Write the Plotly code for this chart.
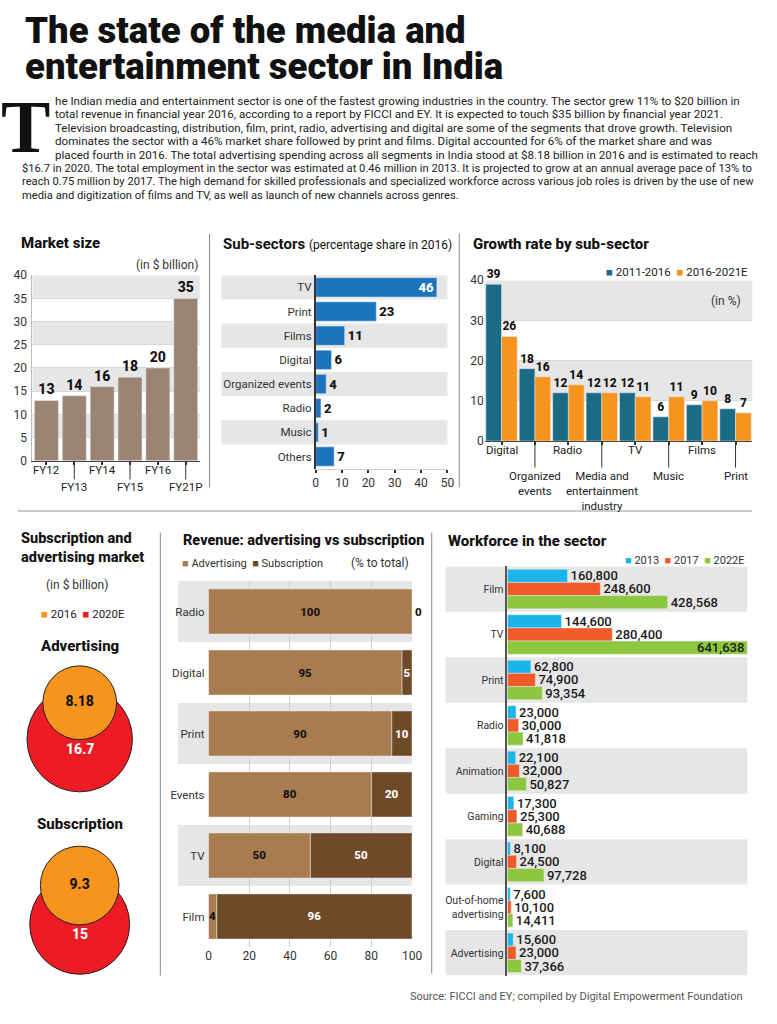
import plotly.graph_objects as go

W, H = 777, 1024
FONT = "Roboto"
BAND = "#e6e6e6"

# ---------------- data ----------------
title_lines = ["The state of the media and", "entertainment sector in India"]
intro_first = ["he Indian media and entertainment sector is one of the fastest growing industries in the country. The sector grew 11% to $20 billion in",
               "total revenue in financial year 2016, according to a report by FICCI and EY. It is expected to touch $35 billion by financial year 2021.",
               "Television broadcasting, distribution, film, print, radio, advertising and digital are some of the segments that drove growth. Television",
               "dominates the sector with a 46% market share followed by print and films. Digital accounted for 6% of the market share and was",
               "placed fourth in 2016. The total advertising spending across all segments in India stood at $8.18 billion in 2016 and is estimated to reach"]
intro_rest = ["$16.7 in 2020. The total employment in the sector was estimated at 0.46 million in 2013. It is projected to grow at an annual average pace of 13% to",
              "reach 0.75 million by 2017. The high demand for skilled professionals and specialized workforce across various job roles is driven by the use of new",
              "media and digitization of films and TV, as well as launch of new channels across genres."]

market_years = ["FY12", "FY13", "FY14", "FY15", "FY16", "FY21P"]
market_values = [13, 14, 16, 18, 20, 35]

sub_sectors = ["TV", "Print", "Films", "Digital", "Organized events", "Radio", "Music", "Others"]
sub_share = [46, 23, 11, 6, 4, 2, 1, 7]

growth_cats = ["Digital", "Organized events", "Radio", "Media and entertainment industry",
               "TV", "Music", "Films", "Print"]
growth_labels = ["Digital", "Organized<br>events", "Radio", "Media and<br>entertainment<br>industry",
                 "TV", "Music", "Films", "Print"]
growth_series = ["2011-2016", "2016-2021E"]
growth_2011_2016 = [39, 18, 12, 12, 12, 6, 9, 8]
growth_2016_2021 = [26, 16, 14, 12, 11, 11, 10, 7]

circle_groups = ["Advertising", "Subscription"]
circle_series = ["2016", "2020E"]
circle_2016 = [8.18, 9.3]
circle_2020 = [16.7, 15]

rev_cats = ["Radio", "Digital", "Print", "Events", "TV", "Film"]
rev_series = ["Advertising", "Subscription"]
rev_adv = [100, 95, 90, 80, 50, 4]
rev_sub = [0, 5, 10, 20, 50, 96]

wf_cats = ["Film", "TV", "Print", "Radio", "Animation", "Gaming", "Digital",
           "Out-of-home advertising", "Advertising"]
wf_labels = ["Film", "TV", "Print", "Radio", "Animation", "Gaming", "Digital",
             "Out-of-home<br>advertising", "Advertising"]
wf_series = ["2013", "2017", "2022E"]
wf_2013 = [160800, 144600, 62800, 23000, 22100, 17300, 8100, 7600, 15600]
wf_2017 = [248600, 280400, 74900, 30000, 32000, 25300, 24500, 10100, 23000]
wf_2022 = [428568, 641638, 93354, 41818, 50827, 40688, 97728, 14411, 37366]

source_text = "Source: FICCI and EY; compiled by Digital Empowerment Foundation"

# ---------------- styles ----------------
C_MARKET = "#9c8475"
C_SUB = "#1c75bc"
C_GROWTH = ["#1b6b87", "#f7941d"]
C_CIRCLE = ["#f7941d", "#ed1c24"]
C_REV = ["#a97c50", "#6f4a28"]
C_WF = ["#1cb5ea", "#f15a29", "#8dc63f"]


def X(p):
    return p / W


def Y(p):
    return 1 - p / H


annotations = []
shapes = []


def ann(text, x, y, size=12, color="#222", xanchor="left", yanchor="middle",
        weight=None, family=FONT, align="left", **kw):
    f = dict(size=size, color=color, family=family)
    if weight:
        f["weight"] = weight
    d = dict(text=text, x=X(x), y=Y(y), xref="paper", yref="paper", showarrow=False,
             xanchor=xanchor, yanchor=yanchor, font=f, align=align)
    d.update(kw)
    annotations.append(d)


def legend_text(names, colors):
    return "  ".join(f"<span style='color:{c}'>■</span> {n}" for n, c in zip(names, colors))


def vline(x, y0, y1, color="#888", w=1):
    shapes.append(dict(type="line", xref="paper", yref="paper", x0=X(x), x1=X(x),
                       y0=Y(y0), y1=Y(y1), line=dict(color=color, width=w)))


def hline(y, x0, x1, color="#888", w=1):
    shapes.append(dict(type="line", xref="paper", yref="paper", x0=X(x0), x1=X(x1),
                       y0=Y(y), y1=Y(y), line=dict(color=color, width=w)))


fig = go.Figure()

# ---------------- header ----------------
for i, t in enumerate(title_lines):
    ann(t, 20, 24 + 36.5 * i, size=36.5, color="#111", weight=900)
ann("T", 50, 122, size=74, color="#111", family="Liberation Serif", weight=700, xanchor="right")
LEAD = 13.7
for i, t in enumerate(intro_first):
    ann(t, 51, 95 + LEAD * i, size=11.6, color="#222")
for i, t in enumerate(intro_rest):
    ann(t, 17, 95 + LEAD * (len(intro_first) + i), size=11.2, color="#222")

# dividers
vline(210, 230, 487)
vline(464, 230, 487)
hline(511, 15, 762, color="#999")
vline(160, 533, 982)
vline(436, 533, 980)

# ---------------- Market size ----------------
ann("Market size", 16, 239, size=15, color="#111", weight=800)
ann("(in $ billion)", 200, 262, size=12, color="#333", xanchor="right")
fig.add_trace(go.Bar(x=market_years, y=market_values, width=0.86, marker_color=C_MARKET,
                     text=[str(v) for v in market_values], textposition="outside",
                     textfont=dict(size=14, color="#111", family=FONT, weight=800),
                     constraintext="none", cliponaxis=False, xaxis="x", yaxis="y",
                     showlegend=False, name="Market size"))
for k in range(1, 8, 2):
    shapes.append(dict(type="rect", xref="paper", yref="y", x0=X(30), x1=X(200),
                       y0=5 * k, y1=5 * k + 5, fillcolor=BAND, line_width=0, layer="below"))
for i, lab in enumerate(market_years):
    lvl2 = i % 2 == 1
    annotations.append(dict(text=lab, x=lab, xref="x", y=Y(487 if lvl2 else 469), yref="paper",
                            showarrow=False, font=dict(size=11.5, color="#222", family=FONT)))
    if lvl2:
        shapes.append(dict(type="line", xref="x", yref="paper", x0=i, x1=i, y0=Y(460), y1=Y(479),
                           line=dict(color="#333", width=1)))

# ---------------- Sub-sectors ----------------
ann("<b>Sub-sectors</b> <span style='font-size:12px;font-weight:400'>(percentage share in 2016)</span>",
    222, 240, size=15, color="#111")
mx = max(sub_share)
fig.add_trace(go.Bar(y=sub_sectors, x=sub_share, orientation="h", width=0.8, marker_color=C_SUB,
                     text=[str(v) for v in sub_share],
                     textposition=["inside" if v == mx else "outside" for v in sub_share],
                     insidetextanchor="end",
                     insidetextfont=dict(size=13, color="white", family=FONT, weight=800),
                     outsidetextfont=dict(size=13, color="#111", family=FONT, weight=800),
                     constraintext="none", cliponaxis=False, xaxis="x2", yaxis="y2",
                     showlegend=False, name="Share"))
for i in range(0, len(sub_sectors), 2):
    shapes.append(dict(type="rect", xref="paper", yref="y2", x0=X(222), x1=X(452),
                       y0=i - 0.5, y1=i + 0.5, fillcolor=BAND, line_width=0, layer="below"))

# ---------------- Growth rate ----------------
ann("Growth rate by sub-sector", 476, 240, size=15, color="#111", weight=800)
ann(legend_text(growth_series, C_GROWTH), 760, 269, size=11.5, color="#222", xanchor="right")
ann("(in %)", 753, 298, size=12, color="#333", xanchor="right")
for j, (vals, off) in enumerate(zip([growth_2011_2016, growth_2016_2021], [-0.47, 0.0])):
    fig.add_trace(go.Bar(x=growth_cats, y=vals, width=0.47, offset=off, marker_color=C_GROWTH[j],
                         text=[str(v) for v in vals], textposition="outside",
                         textfont=dict(size=12, color="#111", family=FONT, weight=800),
                         constraintext="none", cliponaxis=False, xaxis="x3", yaxis="y3",
                         showlegend=False, name=growth_series[j]))
for lo in (10, 30):
    shapes.append(dict(type="rect", xref="paper", yref="y3", x0=X(490), x1=X(762),
                       y0=lo, y1=lo + 10, fillcolor=BAND, line_width=0, layer="below"))
for i, (c, lab) in enumerate(zip(growth_cats, growth_labels)):
    lvl2 = i % 2 == 1
    annotations.append(dict(text=lab, x=c, xref="x3", y=Y(466 if lvl2 else 449), yref="paper",
                            yanchor="top" if lvl2 else "middle", showarrow=False,
                            font=dict(size=11.5, color="#222", family=FONT)))
    if lvl2:
        shapes.append(dict(type="line", xref="x3", yref="paper", x0=i, x1=i, y0=Y(440), y1=Y(467),
                           line=dict(color="#333", width=1)))

# ---------------- Subscription & advertising circles ----------------
ann("Subscription and<br>advertising market", 16, 549, size=14.5, color="#111", weight=800)
ann("(in $ billion)", 42, 586, size=12, color="#333")
ann(legend_text(circle_series, C_CIRCLE), 37, 615, size=11.5, color="#222")
K = 12.9                      # px of radius per sqrt(unit)
CX = 78                       # circle centre column (layout)
bottoms = [795, 980]          # bottom edge of each pair (layout)
heads = [648, 828]
red_cy, org_cy = [], []
for b, big, small in zip(bottoms, circle_2020, circle_2016):
    rb = K * big ** 0.5
    rs = K * small ** 0.5
    red_cy.append(b - rb)
    org_cy.append(b - rb - rs)
for g, hy in zip(circle_groups, heads):
    ann(g, CX, hy, size=15, color="#111", weight=800, xanchor="center")
sref = 1 / (2 * K * K)
fig.add_trace(go.Scatter(x=[CX] * 2, y=red_cy, mode="markers",
                         marker=dict(size=circle_2020, sizemode="area", sizeref=sref,
                                     color=C_CIRCLE[1], line=dict(color="#222", width=1), opacity=1),
                         xaxis="x4", yaxis="y4", showlegend=False, name=circle_series[1],
                         cliponaxis=False))
fig.add_trace(go.Scatter(x=[CX] * 2, y=org_cy, mode="markers+text",
                         marker=dict(size=circle_2016, sizemode="area", sizeref=sref,
                                     color=C_CIRCLE[0], line=dict(color="#222", width=1), opacity=1),
                         text=[str(v) for v in circle_2016], textposition="middle center",
                         textfont=dict(size=14, color="#111", family=FONT, weight=800),
                         xaxis="x4", yaxis="y4", showlegend=False, name=circle_series[0],
                         cliponaxis=False))
for v, cy in zip(circle_2020, red_cy):
    annotations.append(dict(text=str(v), x=CX, y=cy + 10, xref="x4", yref="y4", showarrow=False,
                            font=dict(size=14, color="white", family=FONT, weight=800)))

# ---------------- Revenue: advertising vs subscription ----------------
ann("Revenue: advertising vs subscription", 181, 541, size=14.5, color="#111", weight=800)
ann(legend_text(rev_series, C_REV), 180, 564, size=11, color="#333")
ann("(% to total)", 415, 564, size=12, color="#333", xanchor="right")
fig.add_trace(go.Bar(y=rev_cats, x=rev_sub, base=rev_adv, orientation="h", width=0.74, offset=-0.37,
                     marker_color=C_REV[1], text=[str(v) for v in rev_sub],
                     textposition=["outside" if v == 0 else "inside" for v in rev_sub],
                     insidetextanchor="middle",
                     insidetextfont=dict(size=11.5, color="white", family=FONT, weight=800),
                     outsidetextfont=dict(size=11.5, color="#111", family=FONT, weight=800),
                     constraintext="none", cliponaxis=False, xaxis="x5", yaxis="y5",
                     showlegend=False, name=rev_series[1]))
fig.add_trace(go.Bar(y=rev_cats, x=rev_adv, orientation="h", width=0.74, offset=-0.37,
                     marker_color=C_REV[0], text=[str(v) for v in rev_adv],
                     textposition="inside", insidetextanchor="middle",
                     insidetextfont=dict(size=11.5, color="#111", family=FONT, weight=800),
                     constraintext="none", cliponaxis=False, xaxis="x5", yaxis="y5",
                     showlegend=False, name=rev_series[0]))
for i in range(0, len(rev_cats), 2):
    shapes.append(dict(type="rect", xref="paper", yref="y5", x0=X(178), x1=X(416),
                       y0=i - 0.5, y1=i + 0.5, fillcolor=BAND, line_width=0, layer="below"))

# ---------------- Workforce ----------------
ann("Workforce in the sector", 451, 541, size=15, color="#111", weight=800)
ann(legend_text(wf_series, C_WF), 757, 561, size=11, color="#333", xanchor="right")
wmax = max(wf_2022 + wf_2017 + wf_2013)
for j, (vals, off) in enumerate(zip([wf_2013, wf_2017, wf_2022], [-0.435, -0.145, 0.145])):
    fig.add_trace(go.Bar(y=wf_cats, x=vals, orientation="h", width=0.29, offset=off,
                         marker_color=C_WF[j], text=[f"{v:,}" for v in vals],
                         textposition=["inside" if v == wmax else "outside" for v in vals],
                         insidetextanchor="end",
                         textfont=dict(size=13, color="#1a1a1a", family=FONT, weight=500),
                         constraintext="none", cliponaxis=False, xaxis="x6", yaxis="y6",
                         showlegend=False, name=wf_series[j]))
for i in range(0, len(wf_cats), 2):
    shapes.append(dict(type="rect", xref="paper", yref="y6", x0=X(450), x1=X(757),
                       y0=i - 0.5, y1=i + 0.5, fillcolor=BAND, line_width=0, layer="below"))

ann(source_text, 755, 1003, size=11, color="#555", xanchor="right")

# ---------------- axes ----------------
tick = dict(family=FONT, size=12, color="#333")
fig.update_layout(
    width=W, height=H, margin=dict(l=0, r=0, t=0, b=0),
    paper_bgcolor="white", plot_bgcolor="rgba(0,0,0,0)",
    barmode="overlay", showlegend=False, font=dict(family=FONT, color="#222"),
    xaxis=dict(domain=[X(30), X(200)], type="category", range=[-0.5, 5.5],
               tickvals=market_years, showticklabels=False, ticks="outside", ticklen=3,
               tickwidth=2, tickcolor="#333", showline=True, linecolor="#444", showgrid=False),
    yaxis=dict(domain=[Y(460), Y(272)], range=[0, 40], dtick=5, tickfont=tick,
               showgrid=True, gridcolor="#d8d8d8", zeroline=False, showline=True,
               linecolor="#bbbbbb", ticklabelstandoff=2),
    xaxis2=dict(domain=[X(318), X(452)], anchor="y2", range=[0, 50], dtick=10, tickfont=tick,
                ticks="outside", ticklen=3, tickwidth=2, tickcolor="#333", showgrid=False,
                showline=True, linecolor="#cccccc", zeroline=False),
    yaxis2=dict(domain=[Y(468), Y(272)], anchor="x2", type="category", range=[7.5, -0.5],
                tickfont=dict(family=FONT, size=11.5, color="#333"), showline=True,
                linecolor="#333", linewidth=1.5, showgrid=False),
    xaxis3=dict(domain=[X(490), X(762)], anchor="y3", type="category", range=[-0.5, 7.5],
                tickvals=growth_cats, showticklabels=False, ticks="outside", ticklen=3,
                tickwidth=2, tickcolor="#333", showline=True, linecolor="#444", showgrid=False),
    yaxis3=dict(domain=[Y(440), Y(277)], anchor="x3", range=[0, 40], dtick=10, tickfont=tick,
                showgrid=True, gridcolor="#d8d8d8", zeroline=False, showline=False),
    xaxis4=dict(domain=[0, X(160)], anchor="y4", range=[0, 160], visible=False),
    yaxis4=dict(domain=[Y(1000), Y(600)], anchor="x4", range=[1000, 600], visible=False),
    xaxis5=dict(domain=[X(209), X(416)], anchor="y5", range=[0, 100], dtick=20, tickfont=tick,
                showgrid=True, gridcolor="#cfcfcf", zeroline=False, showline=False),
    yaxis5=dict(domain=[Y(953), Y(582)], anchor="x5", type="category", range=[5.5, -0.5],
                tickfont=dict(family=FONT, size=11.5, color="#333"), showgrid=False,
                ticklabelstandoff=3),
    xaxis6=dict(domain=[X(513), X(757)], anchor="y6", range=[0, wmax], visible=False),
    yaxis6=dict(domain=[Y(982), Y(567)], anchor="x6", type="category", range=[8.5, -0.5],
                tickvals=wf_cats, ticktext=wf_labels,
                tickfont=dict(family=FONT, size=10.5, color="#333"), showline=True,
                linecolor="#555", linewidth=1.5, showgrid=False),
    annotations=annotations, shapes=shapes,
)

fig.write_html("out.html", post_script="document.body.style.margin='0';",
               config={"displayModeBar": False})
